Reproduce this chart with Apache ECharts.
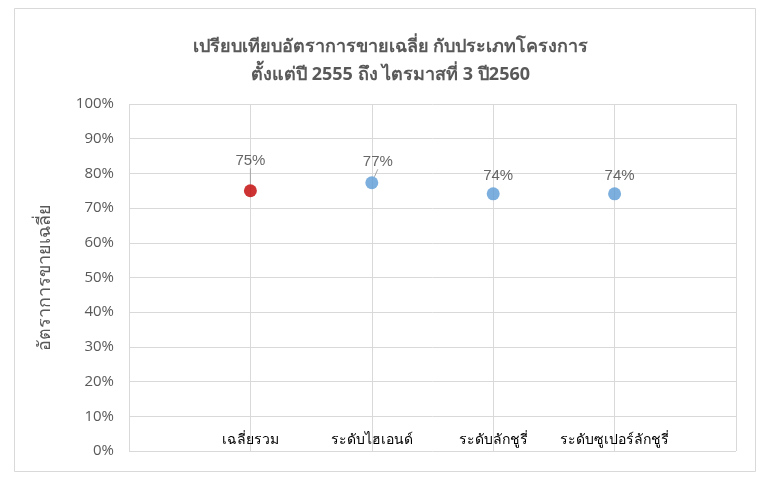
<!DOCTYPE html>
<html>
<head>
<meta charset="utf-8">
<script src="https://cdn.jsdelivr.net/npm/echarts@6/dist/echarts.min.js"></script>
<style>
html,body{margin:0;padding:0;background:#fff;}
#chart{width:781px;height:490px;}
</style>
</head>
<body>
<div id="chart"></div>
<script>
// ---- data ----
var titleText = 'เปรียบเทียบอัตราการขายเฉลี่ย กับประเภทโครงการ\nตั้งแต่ปี 2555 ถึง ไตรมาสที่ 3 ปี2560';
var yAxisName = 'อัตราการขายเฉลี่ย';
var categories = ['เฉลี่ยรวม', 'ระดับไฮเอนด์', 'ระดับลักชูรี่', 'ระดับซูเปอร์ลักชูรี่'];
var categoryPos = [1, 2, 3, 4];
var salesRate = [75.0, 77.3, 74.1, 74.1];
var yTicks = [0, 10, 20, 30, 40, 50, 60, 70, 80, 90, 100];

var pointColors = ['#C00000', '#5B9BD5', '#5B9BD5', '#5B9BD5'];
var labelShift = [[0, -11], [6, -2], [5, 1], [5, 1]];
var showLeader = [true, true, false, false];

var chart = echarts.init(document.getElementById('chart'), null, {renderer: 'canvas'});
var data = salesRate.map(function (v, i) {
  return {value: [categoryPos[i], v], itemStyle: {color: pointColors[i]},
    labelLine: {show: showLeader[i]}};
});

chart.setOption({
  backgroundColor: '#fff',
  animation: false,
  title: {
    text: titleText,
    left: 'center',
    top: 28,
    textStyle: {fontSize: 18, fontWeight: 'bold', color: '#595959', lineHeight: 28,
      fontFamily: 'Noto Sans, sans-serif'}
  },
  graphic: [{
    type: 'rect',
    shape: {x: 14.5, y: 8.5, width: 741, height: 463},
    style: {fill: 'none', stroke: '#d9d9d9', lineWidth: 1},
    silent: true, z: -1
  }],
  grid: {left: 129, right: 45, top: 104, bottom: 39},
  xAxis: {
    type: 'value', min: 0, max: 5, interval: 1,
    axisLine: {show: false}, axisTick: {show: false},
    splitLine: {show: true, lineStyle: {color: '#d9d9d9', width: 1}},
    axisLabel: {
      inside: true, margin: 4, fontSize: 14, color: '#000',
      fontFamily: 'Liberation Sans, sans-serif',
      formatter: function (v) { var i = categoryPos.indexOf(v); return i >= 0 ? categories[i] : ''; }
    }
  },
  yAxis: {
    type: 'value', min: yTicks[0], max: yTicks[yTicks.length - 1], interval: 10,
    name: yAxisName, nameLocation: 'middle', nameGap: 75, nameRotate: 90,
    nameTextStyle: {fontSize: 18, color: '#595959', fontFamily: 'Noto Sans, sans-serif'},
    axisLine: {show: false}, axisTick: {show: false},
    splitLine: {show: true, lineStyle: {color: '#d9d9d9', width: 1}},
    axisLabel: {formatter: '{value}%', margin: 15, fontSize: 15, color: '#595959',
      fontFamily: 'Open Sans, sans-serif'}
  },
  series: [{
    type: 'scatter',
    symbol: 'circle',
    symbolSize: 13,
    data: data,
    label: {
      show: true, position: 'top', distance: 5,
      fontSize: 15, color: '#404040', fontFamily: 'Liberation Sans, Arial, sans-serif',
      formatter: function (p) { return Math.round(p.value[1]) + '%'; }
    },
    labelLine: {show: true, lineStyle: {color: '#a6a6a6', width: 1}},
    labelLayout: function (p) {
      var s = labelShift[p.dataIndex];
      return {dx: s[0], dy: s[1]};
    }
  }]
});
</script>
</body>
</html>
